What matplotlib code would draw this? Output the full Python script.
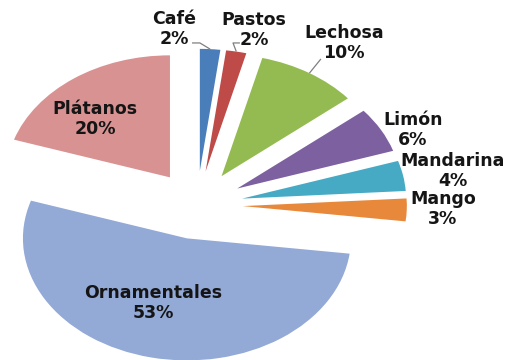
import numpy as np
import matplotlib
matplotlib.use("Agg")
import matplotlib.pyplot as plt

# Share of cultivated area by crop
crops = ["Café", "Pastos", "Lechosa", "Limón", "Mandarina", "Mango",
         "Ornamentales", "Plátanos"]
shares = [2, 2, 10, 6, 4, 3, 53, 20]

colors = ["#4A7EBB", "#BE4B48", "#94BB52", "#7D60A0", "#46AAC5", "#E8883A",
          "#93A9D6", "#D99292"]

explode_amt = 0.28

# Label anchor points (data units, pie centre at origin)
label_pos = {
    "Café": (-0.140, 1.443),
    "Pastos": (0.348, 1.434),
    "Lechosa": (0.896, 1.328),
    "Limón": (1.317, 0.615),
    "Mandarina": (1.561, 0.279),
    "Mango": (1.500, -0.033),
    "Plátanos": (-0.622, 0.705),
    "Ornamentales": (-0.268, -0.803),
}

# Elbow points of the leader lines, from label towards the slice
leader_elbows = {
    "Café": [(-0.030, 1.328), (0.018, 1.328)],
    "Pastos": [(0.262, 1.328), (0.220, 1.328)],
    "Lechosa": [(0.756, 1.197)],
}

fig = plt.figure(figsize=(5.1, 3.6), dpi=100)
ax = fig.add_axes([0, 0, 1, 1])

wedges, _ = ax.pie(shares, colors=colors, startangle=90, counterclock=False,
                   explode=[explode_amt] * len(shares), radius=1.0,
                   wedgeprops=dict(linewidth=0))

# Stretch the pie horizontally into an ellipse
ax.set_aspect("auto")
ax.set_xlim(-1.201, 1.909)
ax.set_ylim(-1.270, 1.680)
ax.axis("off")

text_color = "#151515"
total = float(sum(shares))
for w, name, val in zip(wedges, crops, shares):
    mid = np.deg2rad((w.theta1 + w.theta2) / 2.0)
    x, y = label_pos[name]
    ax.text(x, y, f"{name}\n{val / total * 100:.0f}%", ha="center", va="center",
            fontsize=12.5, fontweight="bold", color=text_color,
            family="DejaVu Sans", linespacing=1.15)
    if name in leader_elbows:
        cx, cy = w.center
        rim = (cx + w.r * np.cos(mid), cy + w.r * np.sin(mid))
        pts = leader_elbows[name] + [rim]
        xs, ys = zip(*pts)
        ax.plot(xs, ys, color="#7f7f7f", linewidth=0.9, solid_capstyle="butt")

fig.savefig("out.png", dpi=100, facecolor="white")
